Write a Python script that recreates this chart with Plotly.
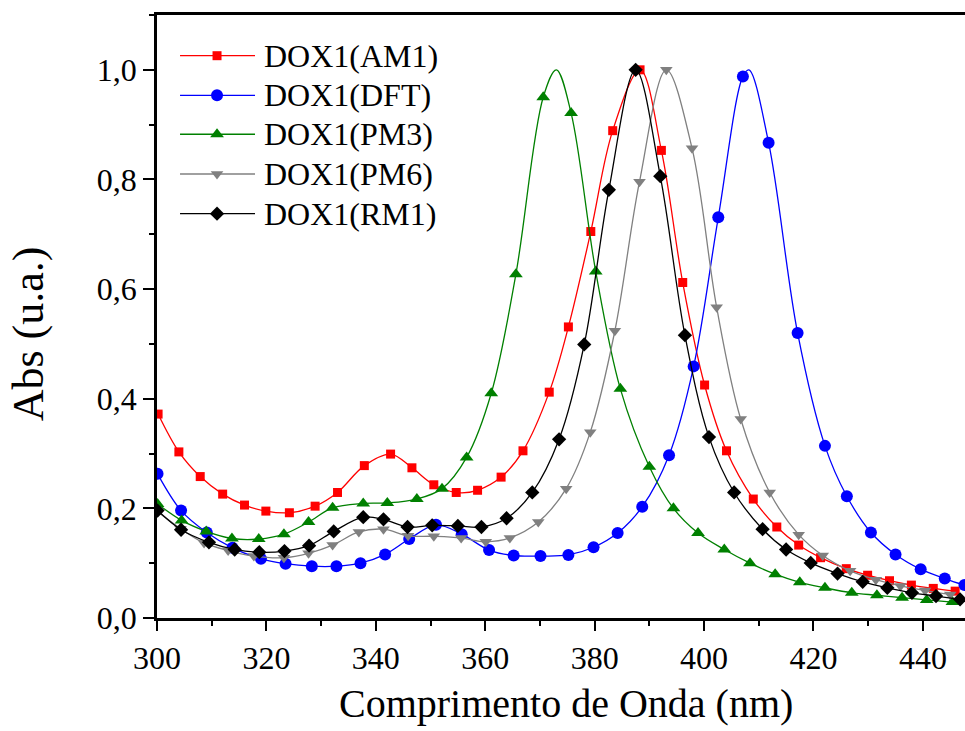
import plotly.graph_objects as go

# Simulated UV-Vis absorption spectra of DOX1 (normalised), one series per method.
# Wavelength (nm) and absorbance at each marked point.
AM1_WL = [300.2, 304.0, 307.9, 312.0, 316.0, 319.9, 324.2, 328.9, 333.0, 337.9, 342.7, 346.6,
          350.6, 354.7, 358.6, 362.9, 366.9, 371.7, 375.2, 379.3, 383.3, 388.3, 392.2, 396.1,
          400.1, 404.1, 409.0, 413.3, 417.3, 421.3, 426.0, 429.9, 433.9, 437.9, 441.9, 445.9]
AM1_ABS = [0.372, 0.303, 0.258, 0.226, 0.206, 0.195, 0.192, 0.204, 0.229, 0.278, 0.299, 0.274,
           0.243, 0.229, 0.233, 0.257, 0.305, 0.412, 0.531, 0.705, 0.889, 1.000, 0.853, 0.612,
           0.425, 0.305, 0.217, 0.166, 0.133, 0.110, 0.090, 0.078, 0.068, 0.060, 0.054, 0.049]
AM1_PEAK = None

DFT_WL = [300.1, 304.4, 309.1, 313.8, 319.0, 323.5, 328.3, 332.8, 337.2, 341.7, 346.1, 351.0,
          355.7, 360.7, 365.2, 370.1, 375.2, 379.8, 384.2, 388.7, 393.6, 398.1, 402.6, 407.1,
          411.8, 417.1, 422.1, 426.1, 430.5, 435.0, 439.6, 444.0, 447.6]
DFT_ABS = [0.263, 0.196, 0.156, 0.128, 0.108, 0.099, 0.0945, 0.0945, 0.100, 0.116, 0.144, 0.170,
           0.153, 0.124, 0.114, 0.113, 0.115, 0.129, 0.155, 0.203, 0.297, 0.459, 0.731, 0.988,
           0.867, 0.520, 0.314, 0.222, 0.156, 0.116, 0.089, 0.072, 0.060]
DFT_PEAK = (408.2, 1.000)

PM3_WL = [300.1, 304.5, 309.0, 313.7, 318.6, 323.2, 327.7, 332.1, 337.7, 342.1, 347.5, 352.1,
          356.6, 361.1, 365.6, 370.6, 375.7, 380.2, 384.7, 390.0, 394.4, 398.9, 403.7, 408.4,
          413.0, 417.5, 422.1, 427.0, 431.6, 436.2, 440.7, 445.4]
PM3_ABS = [0.208, 0.178, 0.158, 0.145, 0.144, 0.153, 0.175, 0.201, 0.209, 0.210, 0.217, 0.236,
           0.293, 0.410, 0.627, 0.950, 0.921, 0.632, 0.418, 0.276, 0.200, 0.155, 0.125, 0.100,
           0.080, 0.065, 0.055, 0.046, 0.0415, 0.037, 0.033, 0.029]
PM3_PEAK = (373.0, 1.000)

PM6_WL = [300.0, 304.3, 308.6, 313.0, 317.7, 323.2, 327.7, 332.1, 336.9, 341.4, 345.9, 350.6,
          355.6, 360.1, 364.5, 369.7, 374.8, 379.2, 383.7, 388.2, 393.1, 397.8, 402.3, 406.7,
          412.0, 417.3, 421.7, 426.7, 431.4, 435.9, 440.4, 445.0]
PM6_ABS = [0.195, 0.163, 0.137, 0.123, 0.113, 0.110, 0.118, 0.133, 0.157, 0.162, 0.150, 0.149,
           0.146, 0.139, 0.146, 0.175, 0.236, 0.339, 0.524, 0.796, 1.000, 0.857, 0.567, 0.363,
           0.229, 0.152, 0.114, 0.086, 0.070, 0.0585, 0.050, 0.043]
PM6_PEAK = None

RM1_WL = [300.1, 304.4, 309.5, 314.2, 318.7, 323.3, 327.8, 332.3, 337.7, 341.4, 345.8, 350.3,
          355.0, 359.3, 363.9, 368.6, 373.5, 378.1, 382.6, 387.5, 392.0, 396.5, 400.9, 405.5,
          410.7, 415.0, 419.5, 424.4, 429.0, 433.5, 438.0, 442.4, 446.8]
RM1_ABS = [0.196, 0.161, 0.138, 0.125, 0.120, 0.122, 0.132, 0.158, 0.184, 0.180, 0.166, 0.169,
           0.168, 0.166, 0.182, 0.229, 0.326, 0.499, 0.781, 1.000, 0.806, 0.516, 0.330, 0.229,
           0.162, 0.125, 0.1005, 0.081, 0.066, 0.055, 0.046, 0.040, 0.034]
RM1_PEAK = None

SERIES_NAMES = ["DOX1(AM1)", "DOX1(DFT)", "DOX1(PM3)", "DOX1(PM6)", "DOX1(RM1)"]

X_TICKS = [300, 320, 340, 360, 380, 400, 420, 440]
Y_TICKS = [0.0, 0.2, 0.4, 0.6, 0.8, 1.0]

X_TITLE = "Comprimento de Onda (nm)"
Y_TITLE = "Abs (u.a.)"

FONT = "Liberation Serif"

styles = [
    dict(color="#ff0000", symbol="square", size=9),
    dict(color="#0000ff", symbol="circle", size=12),
    dict(color="#008000", symbol="triangle-up", size=12),
    dict(color="#808080", symbol="triangle-down", size=11),
    dict(color="#000000", symbol="diamond", size=11),
]

data = [
    (AM1_WL, AM1_ABS, AM1_PEAK),
    (DFT_WL, DFT_ABS, DFT_PEAK),
    (PM3_WL, PM3_ABS, PM3_PEAK),
    (PM6_WL, PM6_ABS, PM6_PEAK),
    (RM1_WL, RM1_ABS, RM1_PEAK),
]

fig = go.Figure()

for name, (wl, ab, peak), st in zip(SERIES_NAMES, data, styles):
    pts = list(zip(wl, ab))
    if peak is not None:
        pts.append(peak)
    pts.sort()
    lx = [p[0] for p in pts]
    ly = [p[1] for p in pts]
    # smooth spectrum line
    fig.add_trace(go.Scatter(
        x=lx, y=ly, mode="lines", name=name, showlegend=False,
        line=dict(color=st["color"], width=1.3, shape="spline", smoothing=1.0),
        hoverinfo="skip",
    ))
    # markers on the sampled points
    fig.add_trace(go.Scatter(
        x=wl, y=ab, mode="markers", name=name, showlegend=False,
        marker=dict(color=st["color"], symbol=st["symbol"], size=st["size"],
                    line=dict(width=0)),
    ))

# Legend drawn inside the plot area (long line sample with a centred marker)
leg_rows = [0.9325, 0.8668, 0.8022, 0.7363, 0.6705]
line_x0, line_x1, mark_x, text_x = 0.0285, 0.1213, 0.0743, 0.1300
shapes = []
annotations = []
for name, st, yy in zip(SERIES_NAMES, styles, leg_rows):
    shapes.append(dict(type="line", xref="paper", yref="paper",
                       x0=line_x0, x1=line_x1, y0=yy, y1=yy,
                       line=dict(color=st["color"], width=1.3)))
    annotations.append(dict(xref="paper", yref="paper", x=text_x, y=yy,
                            xanchor="left", yanchor="middle", showarrow=False,
                            text=name, font=dict(family=FONT, size=32, color="black")))
    fig.add_trace(go.Scatter(
        x=[mark_x], y=[yy], xaxis="x2", yaxis="y2", mode="markers",
        showlegend=False, cliponaxis=False, hoverinfo="skip",
        marker=dict(color=st["color"], symbol=st["symbol"], size=st["size"],
                    line=dict(width=0)),
    ))

# Axis titles
annotations.append(dict(xref="paper", yref="paper", x=0.5068, y=-0.1426,
                        xanchor="center", yanchor="middle", showarrow=False,
                        text=X_TITLE, font=dict(family=FONT, size=40, color="black")))
annotations.append(dict(xref="paper", yref="paper", x=-0.1597, y=0.472,
                        xanchor="center", yanchor="middle", showarrow=False, textangle=-90,
                        text=Y_TITLE, font=dict(family=FONT, size=44, color="black")))

fig.update_layout(
    width=965, height=731,
    margin=dict(l=157, r=0, t=15, b=113),
    paper_bgcolor="white", plot_bgcolor="white",
    separators=",.",
    showlegend=False,
    font=dict(family=FONT, color="black"),
    shapes=shapes,
    annotations=annotations,
    xaxis=dict(
        range=[300, 447.7], tickvals=X_TICKS,
        ticks="outside", ticklen=10, tickwidth=2, tickcolor="black",
        minor=dict(dtick=10, tick0=300, ticks="outside", ticklen=5, tickwidth=2, tickcolor="black"),
        showline=True, linewidth=2.5, linecolor="black", mirror=True,
        showgrid=False, zeroline=False,
        tickfont=dict(family=FONT, size=32, color="black"),
    ),
    yaxis=dict(
        range=[0, 1.1], tickvals=Y_TICKS, tickformat=".1f",
        ticks="outside", ticklen=11, tickwidth=2, tickcolor="black",
        minor=dict(dtick=0.1, tick0=0, ticks="outside", ticklen=5, tickwidth=2, tickcolor="black"),
        showline=True, linewidth=2.5, linecolor="black", mirror=False,
        showgrid=False, zeroline=False,
        tickfont=dict(family=FONT, size=32, color="black"),
        ticklabelstandoff=0,
    ),
    xaxis2=dict(range=[0, 1], domain=[0, 1], overlaying="x", visible=False, fixedrange=True),
    yaxis2=dict(range=[0, 1], domain=[0, 1], overlaying="y", visible=False, fixedrange=True),
)

fig.write_html("out.html")
